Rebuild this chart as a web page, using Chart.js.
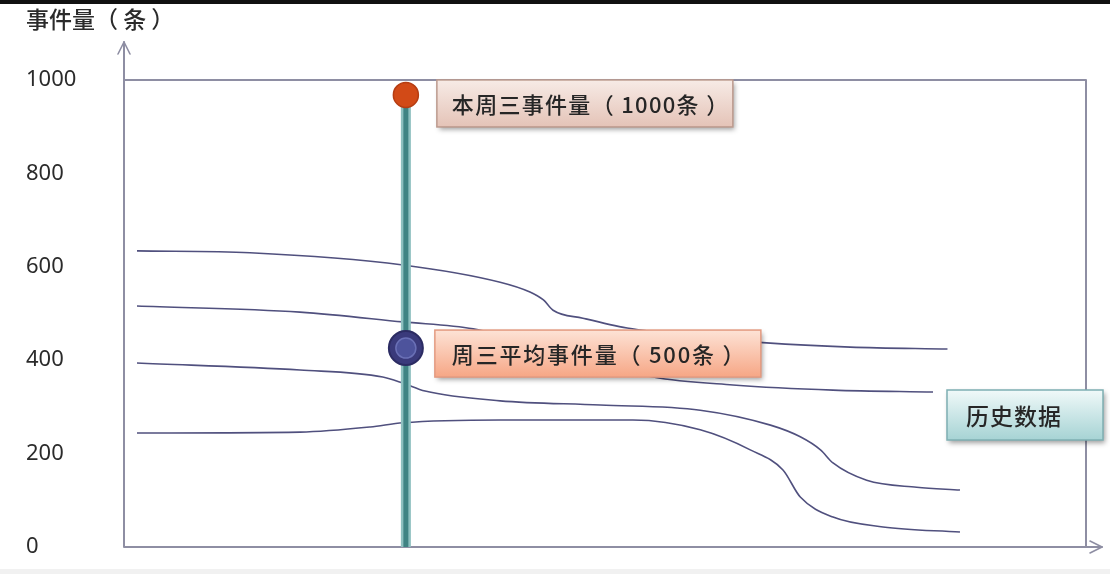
<!DOCTYPE html>
<html><head><meta charset="utf-8">
<script src="https://cdn.jsdelivr.net/npm/chart.js@4.4.1/dist/chart.umd.min.js"></script>
<style>html,body{margin:0;padding:0;background:#fff;}#wrap{width:1110px;height:574px;position:relative;}</style>
</head><body><div id="wrap"><canvas id="c"></canvas></div>
<script>
// ---- data ----
const yTicks = [0, 200, 400, 600, 800, 1000];
const axisTitle = '事件量（ 条 ）';

const hist1X = [1.35, 13.1, 29.0, 39.1, 42.2, 43.6, 44.6, 47.7, 52.3, 59.9, 66.8, 75.5, 85.6];
const hist1Y = [634, 630, 604, 567, 546, 529, 507, 490, 469, 450, 437, 428, 424];

const hist2X = [1.35, 18.3, 29.0, 36.3, 45.0, 55.0, 63.3, 73.7, 84.1];
const hist2Y = [516, 503, 482, 467, 420, 364, 347, 336, 332];

const hist3X = [1.35, 18.3, 26.9, 29.0, 31.3, 39.1, 49.5, 59.9, 67.2, 70.3, 72.4, 73.7, 77.2, 82.4, 86.9];
const hist3Y = [394, 379, 364, 351, 334, 313, 304, 293, 261, 236, 208, 180, 143, 128, 122];

const hist4X = [1.35, 18.3, 25.6, 29.0, 39.1, 52.9, 59.9, 65.1, 68.5, 70.3, 73.7, 78.9, 86.9];
const hist4Y = [244, 246, 257, 266, 272, 272, 251, 208, 165, 107, 64, 43, 32];

const wednesdayX = 29.3;
const markerValues = [968, 426];           // 本周三, 周三平均
const markerLabels = ['本周三事件量（ 1000条 ）', '周三平均事件量（ 500条 ）'];
const legendLabel = '历史数据';

// ---- build ----
const zip = (xs, ys) => xs.map((x, i) => ({x, y: ys[i]}));
const CJK = '"Noto Sans CJK SC", "Noto Sans", sans-serif';
const curveStyle = {showLine: true, borderColor: '#50507e', borderWidth: 1.6, pointRadius: 0, fill: false, cubicInterpolationMode: 'monotone', order: 3};

const datasets = [
  {data: [{x: wednesdayX, y: markerValues[0]}], showLine: false, pointRadius: 12.5, pointBackgroundColor: '#d24a17', pointBorderColor: '#b53d12', pointBorderWidth: 1.5, order: 0},
  {data: [{x: wednesdayX, y: markerValues[1]}], showLine: false, pointRadius: 10, pointBackgroundColor: '#4d539c', pointBorderColor: '#6a70b6', pointBorderWidth: 1.5, order: 0},
  {data: [{x: wednesdayX, y: markerValues[1]}], showLine: false, pointRadius: 17, pointBackgroundColor: '#3a3a7b', pointBorderColor: '#2c2c63', pointBorderWidth: 2, order: 1},
  {data: [{x: wednesdayX, y: 0}, {x: wednesdayX, y: markerValues[0]}], showLine: true, borderColor: '#3f8383', borderWidth: 5, pointRadius: 0, order: 2},
  {data: [{x: wednesdayX, y: 0}, {x: wednesdayX, y: markerValues[0]}], showLine: true, borderColor: '#8dbfbf', borderWidth: 10, pointRadius: 0, order: 2.5},
  Object.assign({data: zip(hist1X, hist1Y)}, curveStyle),
  Object.assign({data: zip(hist2X, hist2Y)}, curveStyle),
  Object.assign({data: zip(hist3X, hist3Y)}, curveStyle),
  Object.assign({data: zip(hist4X, hist4Y)}, curveStyle)
];

function drawBox(ctx, x, y, w, h, c1, c2, border, text, size, tx, spacing) {
  ctx.save();
  const g = ctx.createLinearGradient(0, y, 0, y + h);
  g.addColorStop(0, c1); g.addColorStop(1, c2);
  ctx.shadowColor = 'rgba(0,0,0,0.38)'; ctx.shadowBlur = 5; ctx.shadowOffsetX = 2; ctx.shadowOffsetY = 3;
  ctx.fillStyle = g; ctx.fillRect(x, y, w, h);
  ctx.shadowColor = 'transparent';
  ctx.strokeStyle = border; ctx.lineWidth = 1.5; ctx.strokeRect(x, y, w, h);
  ctx.fillStyle = '#262626'; ctx.font = '500 ' + size + 'px ' + CJK; ctx.textBaseline = 'middle'; ctx.textAlign = 'left';
  if ('letterSpacing' in ctx) ctx.letterSpacing = spacing + 'px';
  ctx.fillText(text, x + tx, y + h / 2 + 1);
  ctx.restore();
}

const framePlugin = {
  id: 'frame',
  beforeDraw(chart) {
    const {ctx, width, height} = chart;
    ctx.save();
    ctx.fillStyle = '#fff'; ctx.fillRect(0, 0, width, height);
    ctx.fillStyle = '#111'; ctx.fillRect(0, 0, width, 4);
    ctx.fillStyle = '#f1f1f1'; ctx.fillRect(0, height - 5, width, 5);
    ctx.restore();
  },
  beforeDatasetsDraw(chart) {
    const {ctx, chartArea: a} = chart;
    ctx.save();
    ctx.strokeStyle = '#8e8ea3'; ctx.lineWidth = 2; ctx.lineCap = 'round'; ctx.lineJoin = 'round';
    ctx.beginPath();
    ctx.moveTo(a.left, a.top - 38); ctx.lineTo(a.left, a.bottom); ctx.lineTo(a.right + 16, a.bottom);
    ctx.moveTo(a.left, a.top); ctx.lineTo(a.right, a.top); ctx.lineTo(a.right, a.bottom);
    ctx.stroke();
    ctx.lineWidth = 1.6;
    ctx.beginPath();
    ctx.moveTo(a.left - 6, a.top - 26); ctx.lineTo(a.left, a.top - 38); ctx.lineTo(a.left + 6, a.top - 26);
    ctx.moveTo(a.right + 4, a.bottom - 6); ctx.lineTo(a.right + 16, a.bottom); ctx.lineTo(a.right + 4, a.bottom + 6);
    ctx.stroke();
    ctx.restore();
  },
  afterDraw(chart) {
    const {ctx, chartArea: a, scales: {x, y}} = chart;
    const px = x.getPixelForValue(wednesdayX);
    const p1 = y.getPixelForValue(markerValues[0]);
    const p2 = y.getPixelForValue(markerValues[1]);
    drawBox(ctx, px + 31, p1 - 15, 296, 47, '#f7ebe6', '#e4c3b7', '#bc9a8e', markerLabels[0], 22, 15, 1.3);
    drawBox(ctx, px + 29, p2 - 18, 326, 47, '#fde3d6', '#f6a685', '#e39a80', markerLabels[1], 22, 17, 1.8);
    drawBox(ctx, a.right - 139, a.top + 310, 156, 50, '#f0f9f9', '#a6d3d4', '#7eafb2', legendLabel, 23, 19, 1);
  }
};

new Chart(document.getElementById('c'), {
  type: 'scatter',
  data: {datasets},
  plugins: [framePlugin],
  options: {
    responsive: true, maintainAspectRatio: false, animation: false, devicePixelRatio: 1,
    layout: {padding: {left: 26, right: 24, top: 0, bottom: 27}},
    plugins: {
      legend: {display: false}, tooltip: {enabled: false},
      title: {display: true, text: axisTitle, align: 'start', color: '#2b2b2b',
        font: {family: CJK, size: 23, weight: '500'}, padding: {top: 5, bottom: 47.4}}
    },
    scales: {
      x: {type: 'linear', min: 0, max: 100, grid: {display: false}, border: {display: false},
          ticks: {display: false}, afterFit: s => { s.height = 0; }},
      y: {min: 0, max: 1000, grid: {display: false}, border: {display: false},
          afterBuildTicks: s => { s.ticks = yTicks.map(v => ({value: v})); },
          ticks: {crossAlign: 'far', padding: 0, color: '#2b2b2b', callback: v => String(v),
                  font: {family: '"Noto Sans", sans-serif', size: 22}},
          afterFit: s => { s.width = 98; }}
    }
  }
});
</script></body></html>
